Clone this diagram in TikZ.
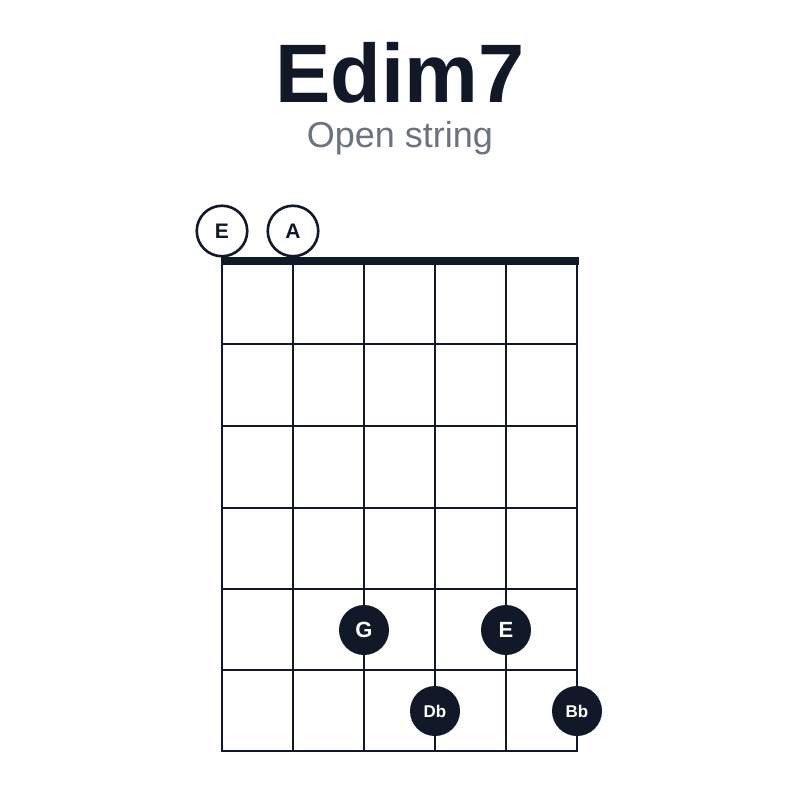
\documentclass[tikz,border=0pt]{standalone}
\usepackage{fontspec}
\setmainfont{Liberation Sans}
\definecolor{ink}{HTML}{111827}
\definecolor{subgray}{HTML}{6B7280}
\begin{document}
\begin{tikzpicture}[x=1pt,y=-1pt,
  gridline/.style={draw=ink,line width=2.2pt},
  nutline/.style={draw=ink,line width=8pt},
  fingerdot/.style={circle,fill=ink,minimum size=50pt,inner sep=0pt,text=white},
  opendot/.style={circle,draw=ink,fill=white,line width=2.6pt,minimum size=50.5pt,inner sep=0pt,text=ink,font=\fontsize{21}{21}\selectfont\bfseries}
]
\useasboundingbox (0,0) rectangle (800,800);
\fill[white] (0,0) rectangle (800,800);
% title
\node[anchor=base,text=ink,font=\fontsize{83}{83}\selectfont\bfseries] (title) at (400,102) {Edim7};
\node[anchor=base,text=subgray,font=\fontsize{36}{36}\selectfont] (subtitle) at (400,147) {Open string};
% strings
\foreach \x in {222,293,364,435,506,577} {
  \draw[gridline] (\x,261) -- (\x,751);
}
% frets
\foreach \y in {344,426,508,589,670,751} {
  \draw[gridline] (221,\y) -- (578,\y);
}
% nut
\draw[nutline] (221,261) -- (578.5,261);
% open strings
\node[opendot] (o1) at (222,231) {E};
\node[opendot] (o2) at (293,231) {A};
% fingered notes
\node[fingerdot,font=\fontsize{22}{22}\selectfont\bfseries] (n1) at (364,630) {G};
\node[fingerdot,font=\fontsize{22}{22}\selectfont\bfseries] (n2) at (506,630) {E};
\node[fingerdot,font=\fontsize{17}{17}\selectfont\bfseries] (n3) at (435,711) {Db};
\node[fingerdot,font=\fontsize{17}{17}\selectfont\bfseries] (n4) at (577,711) {Bb};
\end{tikzpicture}
\end{document}
